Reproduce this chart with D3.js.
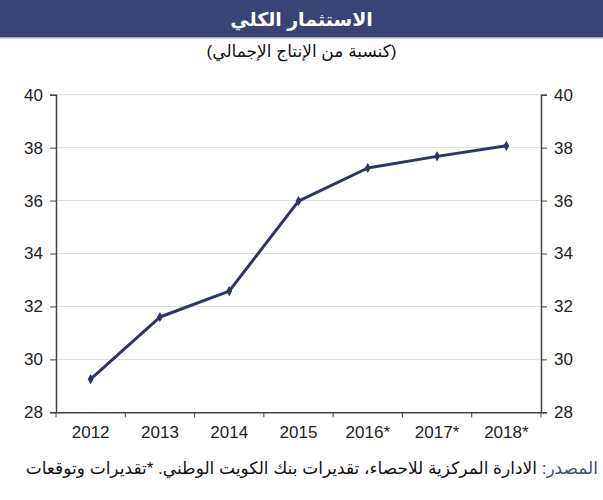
<!DOCTYPE html>
<html>
<head>
<meta charset="utf-8">
<script src="https://cdn.jsdelivr.net/npm/d3@7"></script>
<style>
  body { margin: 0; background: #fff; }
  svg { font-family: "Liberation Sans", Arial, "DejaVu Sans", sans-serif; }
</style>
</head>
<body>
<div class="main"></div>
<script>
var years = ["2012", "2013", "2014", "2015", "2016*", "2017*", "2018*"];
var values = [29.25, 31.6, 32.58, 35.98, 37.23, 37.67, 38.07];
var yTicks = [28, 30, 32, 34, 36, 38, 40];

var title = "الاستثمار الكلي";
var subtitle = "(كنسبة من الإنتاج الإجمالي)";
var sourceLabel = "المصدر:";
var sourceText = " الادارة المركزية للاحصاء، تقديرات بنك الكويت الوطني. *تقديرات وتوقعات";

var width = 603;
var height = 500;
var plotLeft = 56, plotRight = 541, plotTop = 94.7, plotBottom = 412.3;
var navy = "#2e3466";

var svg = d3.select(".main")
        .append("svg")
            .attr("width", width)
            .attr("height", height)

// title bar
svg.append("rect")
    .attr("x", 0).attr("y", 0)
    .attr("width", width).attr("height", 37)
    .style("fill", "#3a4373")
svg.append("rect")
    .attr("x", 0).attr("y", 37)
    .attr("width", width).attr("height", 1.5)
    .style("fill", "#a9acc6")
svg.append("text")
    .attr("x", width / 2).attr("y", 26)
    .attr("text-anchor", "middle")
    .attr("direction", "rtl")
    .style("fill", "#fff")
    .style("font-weight", "bold")
    .style("font-size", "19px")
    .text(title)
svg.append("text")
    .attr("x", width / 2).attr("y", 57)
    .attr("text-anchor", "middle")
    .attr("direction", "rtl")
    .style("fill", "#111")
    .style("font-size", "17px")
    .text(subtitle)

var xScale = d3.scaleBand()
    .domain(years)
    .range([plotLeft, plotRight]);

var yScale = d3.scaleLinear()
    .domain([28, 40])
    .range([plotBottom, plotTop]);

// gridlines
svg.append("g").selectAll("line")
    .data(yTicks.slice(1))
    .enter()
    .append("line")
    .attr("x1", plotLeft).attr("x2", plotRight)
    .attr("y1", d => yScale(d)).attr("y2", d => yScale(d))
    .style("stroke", "#dcdcdc")
    .style("stroke-width", 1)

var yAxisLeft = d3.axisLeft(yScale).tickValues(yTicks).tickSize(6).tickPadding(7);
var yAxisRight = d3.axisRight(yScale).tickValues(yTicks).tickSize(6).tickPadding(7);

svg.append("g")
    .attr("transform", "translate(" + plotLeft + ",0)")
    .call(yAxisLeft)
svg.append("g")
    .attr("transform", "translate(" + plotRight + ",0)")
    .call(yAxisRight)

// x axis with ticks at category boundaries
var xAxisG = svg.append("g")
    .attr("transform", "translate(0," + plotBottom + ")")
    .call(d3.axisBottom(xScale).tickSize(0).tickPadding(14))
xAxisG.selectAll(".tick").append("line")
    .attr("x1", -xScale.bandwidth() / 2).attr("x2", -xScale.bandwidth() / 2)
    .attr("y1", 0).attr("y2", 5)
xAxisG.append("line")
    .attr("x1", plotRight).attr("x2", plotRight)
    .attr("y1", 0).attr("y2", 5)
    .attr("stroke", "#444")

svg.selectAll(".domain").attr("stroke", "#444").attr("stroke-width", 1.5)
svg.selectAll(".tick line").attr("stroke", "#444")
svg.selectAll(".tick text")
    .style("font-size", "17px")
    .style("fill", "#222")

// line
var line = d3.line()
    .x((d, i) => xScale(years[i]) + xScale.bandwidth() / 2)
    .y(d => yScale(d));

svg.append("path")
    .datum(values)
    .attr("d", line)
    .style("fill", "none")
    .style("stroke", navy)
    .style("stroke-width", 3)
    .style("stroke-linejoin", "round")

svg.append("g").selectAll("path")
    .data(values)
    .enter()
    .append("path")
    .attr("d", d3.symbol().type(d3.symbolDiamond).size(30))
    .attr("transform", (d, i) => "translate(" + (xScale(years[i]) + xScale.bandwidth() / 2) + "," + yScale(d) + ")")
    .style("fill", navy)

// source
var src = svg.append("text")
    .attr("x", 598).attr("y", 474)
    .attr("text-anchor", "start")
    .attr("direction", "rtl")
    .style("font-size", "17px")
    .style("fill", "#111")
src.append("tspan").style("fill", "#3a4a8a").text(sourceLabel)
src.append("tspan").text(sourceText)
</script>
</body>
</html>
